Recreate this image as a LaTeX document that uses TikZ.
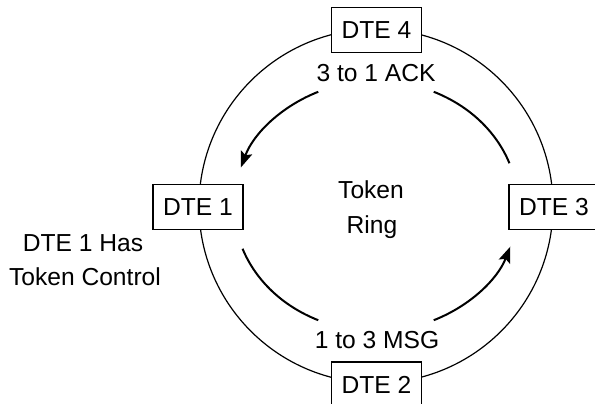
\documentclass[tikz,border=0pt]{standalone}
\usepackage{fontspec}
\setmainfont{Liberation Sans}
\usetikzlibrary{arrows.meta,calc}
\begin{document}
\begin{tikzpicture}[x=1pt,y=-1pt,
  font=\fontsize{24.6}{28}\selectfont,
  dte/.style={draw, line width=1.2pt, fill=white, minimum width=90pt, minimum height=45pt, inner sep=0pt},
  ringline/.style={line width=1.2pt},
  flow/.style={line width=2pt},
  flowarrow/.style={flow, -{Stealth[length=16pt,width=12pt,inset=3pt]}},
  lbl/.style={inner sep=0pt, anchor=base}]
\useasboundingbox (0,0) rectangle (595,404);
\coordinate (c) at (376,206);
\draw[ringline] (c) circle[radius=177];
% inner flow arcs
\draw[flowarrow] ($(c)+(-114:142 and 125)$) arc[start angle=-114, end angle=-162, x radius=142, y radius=125];
\draw[flow] ($(c)+(-66:142 and 125)$) arc[start angle=-66, end angle=-20, x radius=142, y radius=125];
\draw[flow] ($(c)+(160:142 and 125)$) arc[start angle=160, end angle=114, x radius=142, y radius=125];
\draw[flowarrow] ($(c)+(66:142 and 125)$) arc[start angle=66, end angle=19, x radius=142, y radius=125];
% stations
\node[dte] (d4) at (376.5,30) {DTE 4};
\node[dte] (d2) at (376.5,384.5) {DTE 2};
\node[dte] (d1) at (198,207) {DTE 1};
\node[dte] (d3) at (554,207) {DTE 3};
% labels
\node[lbl] (ack) at (376,82) {3 to 1 ACK};
\node[lbl] (msg) at (377,348) {1 to 3 MSG};
\node[lbl] (tok) at (371,198) {Token};
\node[lbl] (ring) at (372,233) {Ring};
\node[lbl] (has) at (83,251) {DTE 1 Has};
\node[lbl] (ctl) at (85,285) {Token Control};
\end{tikzpicture}
\end{document}
